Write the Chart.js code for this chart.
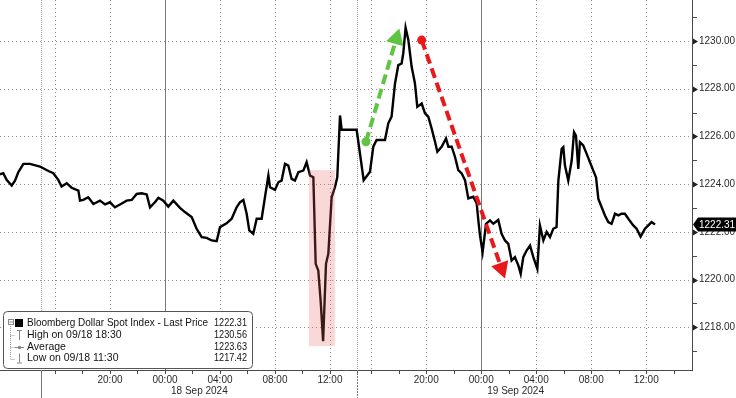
<!DOCTYPE html>
<html>
<head>
<meta charset="utf-8">
<script src="https://cdn.jsdelivr.net/npm/chart.js@4.4.1/dist/chart.umd.min.js"></script>
<style>
    html, body { margin: 0; padding: 0; background: #fff; }
    #contenedor { width: 736px; height: 398px; position: relative; }
</style>
</head>
<body>
<div id="contenedor"><canvas id="grafico-dolar"></canvas></div>
<script>
// Horas sobre el eje comprimido (0 = borde izquierdo, se salta 1h en cada corte de sesion)
const horas = [
    0.00, 0.24, 0.48, 0.85, 1.09, 1.33, 1.70, 2.18, 2.91, 3.52, 3.88, 4.24, 4.48, 4.85, 5.21, 5.70,
    5.82, 6.06, 6.42, 6.79, 7.27, 7.64, 8.00, 8.36, 8.73, 9.21, 9.58, 9.94, 10.30, 10.67, 10.91, 11.27,
    11.52, 11.88, 12.24, 12.61, 13.09, 13.45, 13.94, 14.30, 14.67, 15.03, 15.39, 15.76, 16.00, 16.48, 16.85, 17.21,
    17.45, 17.70, 17.94, 18.13, 18.42, 18.67, 19.03, 19.27, 19.52, 19.64, 20.00, 20.24, 20.48, 20.73, 20.97, 21.21,
    21.45, 21.70, 22.06, 22.30, 22.55, 22.79, 22.96, 23.15, 23.32, 23.50, 23.71, 23.88, 24.12, 24.36, 24.53, 24.73,
    24.85, 25.94, 26.45, 26.91, 27.15, 27.39, 27.64, 28.00, 28.24, 28.48, 28.73, 28.97, 29.21, 29.33, 29.50, 29.70,
    29.94, 30.18, 30.35, 30.67, 30.91, 31.15, 31.39, 31.64, 31.81, 32.12, 32.44, 32.61, 32.85, 33.09, 33.33, 33.58,
    33.82, 34.06, 34.42, 34.67, 34.79, 34.91, 35.10, 35.35, 35.64, 35.88, 36.24, 36.48, 36.73, 36.97, 37.21, 37.45,
    37.70, 37.87, 38.06, 38.30, 38.55, 38.79, 39.08, 39.27, 39.52, 39.76, 40.00, 40.24, 40.48, 40.61, 40.85, 40.97,
    41.09, 41.33, 41.58, 41.75, 41.89, 42.06, 42.18, 42.42, 42.67, 42.91, 43.15, 43.35, 43.52, 43.76, 44.00, 44.24,
    44.48, 44.73, 44.97, 45.21, 45.45, 45.70, 46.06, 46.30, 46.59, 46.91, 47.15, 47.39, 47.64
];
const precios = [
    1224.41, 1224.46, 1224.18, 1223.94, 1224.15, 1224.50, 1224.85, 1224.85, 1224.74, 1224.55, 1224.46, 1224.18, 1223.90, 1224.04, 1223.85, 1223.73,
    1223.31, 1223.34, 1223.45, 1223.17, 1223.31, 1223.15, 1223.24, 1223.03, 1223.15, 1223.31, 1223.34, 1223.59, 1223.62, 1223.57, 1223.03, 1223.24,
    1223.43, 1223.31, 1223.06, 1223.31, 1223.01, 1222.83, 1222.62, 1222.13, 1221.78, 1221.75, 1221.64, 1221.61, 1222.20, 1222.36, 1222.55, 1223.03,
    1223.24, 1223.34, 1222.76, 1222.06, 1221.92, 1222.55, 1222.55, 1223.45, 1224.36, 1223.87, 1223.76, 1224.08, 1224.15, 1224.85, 1224.78, 1224.22,
    1224.15, 1224.50, 1224.57, 1224.92, 1224.36, 1224.29, 1220.66, 1220.38, 1219.12, 1217.42, 1220.66, 1221.08, 1223.45, 1223.87, 1224.29, 1226.88,
    1226.28, 1226.28, 1224.17, 1224.52, 1225.57, 1225.85, 1225.85, 1225.85, 1226.55, 1226.83, 1228.22, 1228.99, 1229.06, 1229.48, 1230.56, 1230.04,
    1228.92, 1228.22, 1227.24, 1227.38, 1226.97, 1226.83, 1226.34, 1225.78, 1225.36, 1225.57, 1225.92, 1225.57, 1225.57, 1225.15, 1224.59, 1224.45,
    1224.17, 1223.40, 1223.47, 1223.19, 1222.48, 1221.85, 1221.15, 1222.34, 1222.48, 1222.34, 1222.50, 1221.92, 1221.64, 1221.50, 1220.80, 1220.94,
    1220.59, 1220.24, 1220.94, 1221.22, 1221.43, 1220.94, 1220.45, 1222.27, 1221.64, 1222.00, 1221.78, 1222.13, 1222.20, 1224.15, 1225.48, 1225.55,
    1224.78, 1224.15, 1224.99, 1226.18, 1226.04, 1224.64, 1225.76, 1225.62, 1225.27, 1224.92, 1224.57, 1224.29, 1223.38, 1223.03, 1222.69, 1222.41,
    1222.34, 1222.76, 1222.69, 1222.76, 1222.76, 1222.55, 1222.27, 1222.13, 1221.80, 1222.13, 1222.27, 1222.41, 1222.31
];

// Eje X
const ejeHoras = [8, 12, 16, 20, 24, 31, 35, 39, 43, 47];
const ejeTextos = ['20:00', '00:00', '04:00', '08:00', '12:00', '20:00', '00:00', '04:00', '08:00', '12:00'];
const rejillaHoras = [4, 8, 12, 16, 20, 24, 27, 31, 35, 39, 43, 47];
const medianoches = [12, 35];
const cortesSesion = [3, 26];
const marcasHoras = [4, 6, 8, 10, 12, 14, 16, 18, 20, 22, 24, 26, 27, 29, 31, 33, 35, 37, 39, 41, 43, 45, 47, 49];
const dias = ['18 Sep 2024', '19 Sep 2024'];
const diasDesde = [3, 26];
const diasHasta = [26, 49];

// Eje Y
const precioTicks = [1217, 1218, 1219, 1220, 1221, 1222, 1223, 1224, 1225, 1226, 1227, 1228, 1229, 1230, 1231];

// Leyenda
const leyendaTextos = ['Bloomberg Dollar Spot Index - Last Price', 'High on 09/18 18:30', 'Average', 'Low on 09/18 11:30'];
const leyendaValores = ['1222.31', '1230.56', '1223.63', '1217.42'];

// Anotaciones
const zonaHoras = [22.47, 24.36];
const zonaPrecios = [1217.21, 1224.59];
const flechaVerdeHoras = [26.62, 29.04];
const flechaVerdePrecios = [1225.78, 1230.53];
const flechaRojaHoras = [30.67, 36.73];
const flechaRojaPrecios = [1230.04, 1220.05];

const fuente = '"Liberation Sans", Arial, sans-serif';
const colorTexto = '#2a2a2a';

function linea(ctx, x1, y1, x2, y2) {
    ctx.beginPath();
    ctx.moveTo(x1, y1);
    ctx.lineTo(x2, y2);
    ctx.stroke();
}

function rectRedondo(ctx, x, y, w, h, r) {
    ctx.beginPath();
    ctx.moveTo(x + r, y);
    ctx.lineTo(x + w - r, y);
    ctx.quadraticCurveTo(x + w, y, x + w, y + r);
    ctx.lineTo(x + w, y + h - r);
    ctx.quadraticCurveTo(x + w, y + h, x + w - r, y + h);
    ctx.lineTo(x + r, y + h);
    ctx.quadraticCurveTo(x, y + h, x, y + h - r);
    ctx.lineTo(x, y + r);
    ctx.quadraticCurveTo(x, y, x + r, y);
    ctx.closePath();
}

// Flecha discontinua con circulo en el origen
function dibujarFlecha(ctx, xs, ys, hs, ps, color) {
    const x1 = xs.getPixelForValue(hs[0]), y1 = ys.getPixelForValue(ps[0]);
    const x2 = xs.getPixelForValue(hs[1]), y2 = ys.getPixelForValue(ps[1]);
    const ang = Math.atan2(y2 - y1, x2 - x1);
    const largoPunta = 16, anchoPunta = 9;
    const bx = x2 - Math.cos(ang) * largoPunta;
    const by = y2 - Math.sin(ang) * largoPunta;

    ctx.save();
    ctx.strokeStyle = color;
    ctx.fillStyle = color;
    ctx.lineWidth = 4;
    ctx.setLineDash([10, 5]);
    linea(ctx, x1, y1, bx, by);
    ctx.setLineDash([]);

    ctx.beginPath();
    ctx.arc(x1, y1, 4.5, 0, Math.PI * 2);
    ctx.fill();

    ctx.beginPath();
    ctx.moveTo(x2, y2);
    ctx.lineTo(bx + Math.sin(ang) * anchoPunta, by - Math.cos(ang) * anchoPunta);
    ctx.lineTo(bx - Math.sin(ang) * anchoPunta, by + Math.cos(ang) * anchoPunta);
    ctx.closePath();
    ctx.fill();
    ctx.restore();
}

function dibujarLeyenda(ctx) {
    const x0 = 3, y0 = 311, w = 249, h = 57;
    const filas = [323, 335, 347, 358.5];

    ctx.save();
    rectRedondo(ctx, x0 + 0.5, y0 + 0.5, w, h, 4);
    ctx.fillStyle = '#fff';
    ctx.fill();
    ctx.strokeStyle = '#555';
    ctx.lineWidth = 1;
    ctx.stroke();

    // Arbol de la izquierda
    ctx.strokeStyle = '#999';
    ctx.setLineDash([1, 1]);
    linea(ctx, 10.5, 326, 10.5, filas[3]);
    for (let i = 1; i < 4; i++) {
        linea(ctx, 10.5, Math.round(filas[i]) + 0.5, 15, Math.round(filas[i]) + 0.5);
    }
    ctx.setLineDash([]);
    ctx.strokeStyle = '#888';
    ctx.strokeRect(8.5, 319.5, 5, 5);
    linea(ctx, 9.5, 322, 13, 322);
    ctx.fillStyle = '#000';
    ctx.fillRect(15, 319, 8, 8);

    // Iconos de maximo, promedio y minimo
    ctx.strokeStyle = '#888';
    ctx.fillStyle = '#888';
    linea(ctx, 19.5, filas[1] - 4, 19.5, filas[1] + 5);
    linea(ctx, 17, filas[1] - 4.5, 22, filas[1] - 4.5);
    linea(ctx, 15, filas[2] + 0.5, 24, filas[2] + 0.5);
    ctx.beginPath();
    ctx.arc(19.5, filas[2] + 0.5, 1.8, 0, Math.PI * 2);
    ctx.fill();
    linea(ctx, 19.5, filas[3] - 5, 19.5, filas[3] + 4);
    linea(ctx, 17, filas[3] + 4.5, 22, filas[3] + 4.5);

    ctx.fillStyle = '#111';
    ctx.font = '10.5px ' + fuente;
    ctx.textBaseline = 'middle';
    leyendaTextos.forEach((t, i) => {
        ctx.textAlign = 'left';
        ctx.fillText(t, 27, filas[i], 181);
        ctx.textAlign = 'right';
        ctx.fillText(leyendaValores[i], 247, filas[i], 33);
    });
    ctx.restore();
}

const dibujos = {
    id: 'dibujos',
    beforeDatasetsDraw(chart) {
        const { ctx, chartArea: a, scales: { x, y } } = chart;
        ctx.save();
        ctx.lineWidth = 1;

        // Rejilla punteada
        ctx.strokeStyle = '#8e8e8e';
        ctx.setLineDash([1, 3]);
        precioTicks.filter(v => v % 2 === 0).forEach(v => {
            const py = Math.round(y.getPixelForValue(v)) + 0.5;
            linea(ctx, a.left, py, a.right, py);
        });
        rejillaHoras.forEach(hr => {
            if (medianoches.includes(hr)) return;
            const px = Math.round(x.getPixelForValue(hr)) + 0.5;
            linea(ctx, px, a.top, px, a.bottom);
        });

        // Cortes de sesion
        ctx.setLineDash([1, 1]);
        ctx.strokeStyle = '#a0a0a0';
        cortesSesion.forEach(hr => {
            const px = Math.round(x.getPixelForValue(hr)) + 0.5;
            linea(ctx, px, a.top, px, a.bottom);
        });

        // Medianoches
        ctx.setLineDash([]);
        ctx.strokeStyle = '#7a7a7a';
        medianoches.forEach(hr => {
            const px = Math.round(x.getPixelForValue(hr)) + 0.5;
            linea(ctx, px, a.top, px, a.bottom);
        });
        ctx.restore();
    },
    afterDatasetsDraw(chart) {
        const { ctx, chartArea: a, scales: { x, y } } = chart;
        ctx.save();

        // Zona rosa sobre la caida
        const zx1 = x.getPixelForValue(zonaHoras[0]), zx2 = x.getPixelForValue(zonaHoras[1]);
        const zy1 = y.getPixelForValue(zonaPrecios[1]), zy2 = y.getPixelForValue(zonaPrecios[0]);
        ctx.fillStyle = 'rgba(240, 100, 100, 0.25)';
        ctx.fillRect(zx1, zy1, zx2 - zx1, zy2 - zy1);

        dibujarFlecha(ctx, x, y, flechaVerdeHoras, flechaVerdePrecios, '#5fc443');
        dibujarFlecha(ctx, x, y, flechaRojaHoras, flechaRojaPrecios, '#e8191c');

        // Ejes
        ctx.strokeStyle = '#4a4a4a';
        ctx.lineWidth = 1;
        linea(ctx, a.right + 0.5, 0, a.right + 0.5, a.bottom + 1);
        linea(ctx, 0, a.bottom + 0.5, a.right + 1, a.bottom + 0.5);

        // Marcas del eje Y
        ctx.fillStyle = '#222';
        precioTicks.forEach(v => {
            const py = Math.round(y.getPixelForValue(v)) + 0.5;
            if (v % 2 === 0) {
                ctx.beginPath();
                ctx.moveTo(a.right + 1, py - 3);
                ctx.lineTo(a.right + 6, py);
                ctx.lineTo(a.right + 1, py + 3);
                ctx.closePath();
                ctx.fill();
            } else {
                linea(ctx, a.right + 1, py, a.right + 5, py);
            }
        });

        // Marcas del eje X
        marcasHoras.forEach(hr => {
            const px = Math.round(x.getPixelForValue(hr)) + 0.5;
            linea(ctx, px, a.bottom, px, a.bottom + 4);
        });
        ctx.strokeStyle = '#777';
        const sx = Math.round(x.getPixelForValue(cortesSesion[0])) + 0.5;
        linea(ctx, sx, a.bottom, sx, 398);
        ctx.setLineDash([2, 1]);
        const sx2 = Math.round(x.getPixelForValue(cortesSesion[1])) + 0.5;
        linea(ctx, sx2, a.bottom, sx2, 398);
        ctx.setLineDash([]);

        // Fechas
        ctx.fillStyle = colorTexto;
        ctx.font = '10px ' + fuente;
        ctx.textAlign = 'center';
        ctx.textBaseline = 'middle';
        dias.forEach((d, i) => {
            ctx.fillText(d, x.getPixelForValue((diasDesde[i] + diasHasta[i]) / 2), 391);
        });

        // Etiqueta del ultimo precio
        const ultimo = precios[precios.length - 1];
        const ly = y.getPixelForValue(ultimo);
        ctx.fillStyle = '#000';
        ctx.beginPath();
        ctx.moveTo(a.right + 1, ly);
        ctx.lineTo(a.right + 6, ly - 7);
        ctx.lineTo(736, ly - 7);
        ctx.lineTo(736, ly + 7);
        ctx.lineTo(a.right + 6, ly + 7);
        ctx.closePath();
        ctx.fill();
        ctx.fillStyle = '#fff';
        ctx.textAlign = 'left';
        ctx.fillText(ultimo.toFixed(2), a.right + 7, ly + 0.5);

        dibujarLeyenda(ctx);
        ctx.restore();
    }
};

document.addEventListener('DOMContentLoaded', function() {
    const ctx = document.getElementById('grafico-dolar').getContext('2d');

    new Chart(ctx, {
        type: 'line',
        data: {
            datasets: [{
                label: 'Bloomberg Dollar Spot Index',
                data: horas.map((h, i) => ({ x: h, y: precios[i] })),
                borderColor: '#000',
                borderWidth: 2.4,
                pointRadius: 0,
                tension: 0,
                fill: false
            }]
        },
        options: {
            responsive: true,
            maintainAspectRatio: false,
            animation: false,
            layout: { padding: 0 },
            plugins: {
                legend: { display: false },
                tooltip: { enabled: false }
            },
            scales: {
                x: {
                    type: 'linear',
                    min: 0,
                    max: 50.33,
                    grid: { display: false, drawTicks: false },
                    border: { display: false },
                    afterBuildTicks: s => { s.ticks = ejeHoras.map(v => ({ value: v })); },
                    afterFit: s => {
                        s.height = 28;
                        s.paddingLeft = 0;
                        s.paddingRight = 0;
                    },
                    ticks: {
                        autoSkip: false,
                        maxRotation: 0,
                        padding: 4,
                        color: colorTexto,
                        font: { family: fuente, size: 10 },
                        callback: v => ejeTextos[ejeHoras.indexOf(v)]
                    }
                },
                y: {
                    position: 'right',
                    min: 1216.21,
                    max: 1231.72,
                    grid: { display: false, drawTicks: false },
                    border: { display: false },
                    afterBuildTicks: s => { s.ticks = precioTicks.map(v => ({ value: v })); },
                    afterFit: s => {
                        s.width = 44;
                        s.paddingTop = 0;
                        s.paddingBottom = 0;
                    },
                    ticks: {
                        padding: 7,
                        color: colorTexto,
                        font: { family: fuente, size: 10 },
                        callback: v => (v % 2 === 0 ? v.toFixed(2) : '')
                    }
                }
            }
        },
        plugins: [dibujos]
    });
});
</script>
</body>
</html>
